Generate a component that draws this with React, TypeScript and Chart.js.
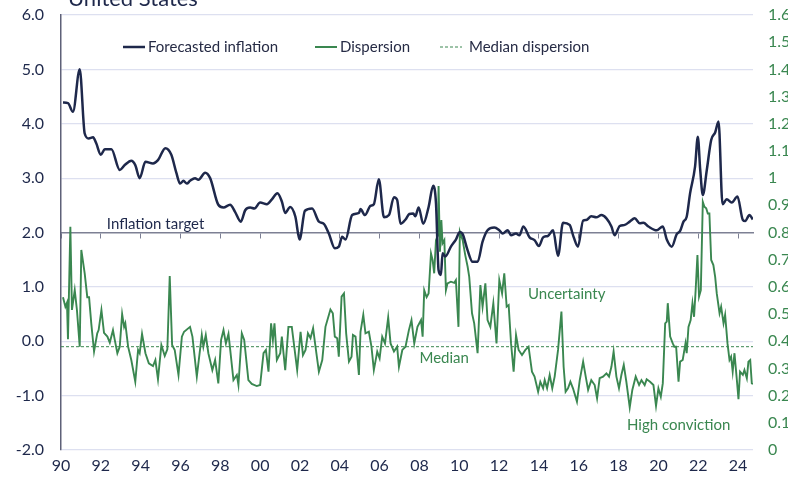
import React, { useEffect, useRef } from "react";
import { Chart, registerables } from "chart.js";

Chart.register(...registerables);

const NAVY = "#1e284b";
const GREEN = "#3a8750";
const FONT = "Lato, 'Noto Sans', sans-serif";

const xStart = 1990;
const xEnd = 2024.75;
const medianDispersion = 0.38;

const inflationYears = [
  1990.1, 1990.35, 1990.6, 1990.94, 1991.19, 1991.39, 1991.61, 1991.77, 1992.0, 1992.2,
  1992.53, 1992.95, 1993.2, 1993.53, 1993.73, 1993.95, 1994.24, 1994.62, 1994.87, 1995.24,
  1995.54, 1995.79, 1995.98, 1996.15, 1996.32, 1996.48, 1996.73, 1996.9, 1997.24, 1997.49,
  1997.9, 1998.16, 1998.49, 1998.74, 1999.03, 1999.25, 1999.5, 1999.71, 2000.0, 2000.34,
  2000.59, 2000.87, 2001.09, 2001.26, 2001.51, 2001.77, 2001.98, 2002.25, 2002.61, 2002.95,
  2003.2, 2003.45, 2003.75, 2003.95, 2004.12, 2004.29, 2004.62, 2004.96, 2005.04, 2005.26,
  2005.54, 2005.71, 2005.96, 2006.22, 2006.47, 2006.72, 2006.88, 2007.05, 2007.3, 2007.49,
  2007.69, 2007.79, 2007.96, 2008.19, 2008.46, 2008.69, 2008.83, 2008.96, 2009.08, 2009.16,
  2009.3, 2009.58, 2009.83, 2010.03, 2010.17, 2010.42, 2010.67, 2010.92, 2011.17, 2011.42,
  2011.76, 2012.01, 2012.18, 2012.43, 2012.6, 2012.85, 2013.02, 2013.22, 2013.53, 2013.78,
  2014.0, 2014.21, 2014.46, 2014.71, 2014.96, 2015.21, 2015.54, 2015.74, 2015.96, 2016.22,
  2016.38, 2016.63, 2016.88, 2017.14, 2017.39, 2017.64, 2017.8, 2018.06, 2018.31, 2018.56,
  2018.81, 2019.06, 2019.25, 2019.5, 2019.91, 2020.22, 2020.42, 2020.67, 2020.92, 2021.09,
  2021.26, 2021.42, 2021.59, 2021.84, 2021.98, 2022.1, 2022.23, 2022.43, 2022.65, 2022.85,
  2023.02, 2023.22, 2023.43, 2023.68, 2023.97, 2024.24, 2024.36, 2024.57, 2024.74,
];
const inflationValues = [
  4.39, 4.38, 4.22, 5.0, 3.82, 3.73, 3.75, 3.64, 3.43, 3.53,
  3.53, 3.15, 3.24, 3.32, 3.24, 3.0, 3.3, 3.27, 3.33, 3.55,
  3.43, 3.1, 2.9, 2.95, 2.9, 2.95, 3.0, 2.97, 3.1, 3.0,
  2.51, 2.46, 2.51, 2.38, 2.2, 2.41, 2.46, 2.44, 2.55, 2.52,
  2.61, 2.72, 2.57, 2.36, 2.47, 2.29, 1.87, 2.4, 2.44, 2.2,
  2.16, 1.98, 1.71, 1.74, 1.92, 1.87, 2.32, 2.36, 2.43, 2.32,
  2.49, 2.52, 2.98, 2.28, 2.32, 2.65, 2.6, 2.16, 2.24, 2.34,
  2.35, 2.3, 2.46, 2.16, 2.47, 2.86, 2.54, 1.31, 1.22, 1.62,
  1.56, 1.74, 1.87, 2.01, 1.97, 1.67, 1.46, 1.46, 1.83, 2.04,
  2.09, 2.04, 1.98, 2.04, 1.95, 1.98, 1.95, 2.11, 1.91, 1.86,
  1.75, 1.91, 1.94, 2.04, 1.57, 2.18, 2.14, 1.92, 1.74, 2.22,
  2.23, 2.3, 2.28, 2.32, 2.26, 2.11, 1.95, 2.12, 2.14, 2.2,
  2.26, 2.17, 2.18, 2.11, 2.04, 2.11, 1.87, 1.74, 1.97, 2.03,
  2.2, 2.29, 2.72, 3.21, 3.76, 3.15, 2.69, 3.15, 3.7, 3.84,
  4.04, 2.52, 2.61, 2.55, 2.66, 2.23, 2.21, 2.32, 2.24,
];

const dispersionYears = [
  1990.1, 1990.22, 1990.3, 1990.35, 1990.47, 1990.55, 1990.69, 1990.8, 1990.94, 1991.02,
  1991.19, 1991.32, 1991.41, 1991.52, 1991.66, 1991.82, 1991.89, 1992.03, 1992.16, 1992.33,
  1992.45, 1992.61, 1992.7, 1992.83, 1992.95, 1993.07, 1993.17, 1993.23, 1993.37, 1993.53,
  1993.73, 1993.87, 1993.95, 1994.07, 1994.24, 1994.41, 1994.62, 1994.74, 1994.87, 1995.04,
  1995.21, 1995.34, 1995.46, 1995.58, 1995.71, 1995.9, 1996.07, 1996.18, 1996.48, 1996.6,
  1996.82, 1997.07, 1997.15, 1997.27, 1997.4, 1997.6, 1997.74, 1997.9, 1998.04, 1998.16,
  1998.28, 1998.41, 1998.49, 1998.66, 1998.83, 1998.91, 1999.08, 1999.2, 1999.41, 1999.58,
  1999.83, 2000.0, 2000.17, 2000.29, 2000.42, 2000.55, 2000.64, 2000.72, 2000.84, 2001.01,
  2001.09, 2001.26, 2001.42, 2001.59, 2001.86, 2002.03, 2002.15, 2002.28, 2002.4, 2002.53,
  2002.66, 2002.78, 2002.95, 2003.12, 2003.28, 2003.53, 2003.65, 2003.75, 2003.87, 2003.95,
  2004.09, 2004.21, 2004.32, 2004.46, 2004.59, 2004.66, 2004.79, 2004.96, 2005.04, 2005.18,
  2005.29, 2005.46, 2005.59, 2005.71, 2005.88, 2006.0, 2006.13, 2006.27, 2006.43, 2006.55,
  2006.72, 2006.88, 2006.97, 2007.14, 2007.3, 2007.47, 2007.6, 2007.74, 2007.9, 2008.08,
  2008.16, 2008.24, 2008.36, 2008.46, 2008.58, 2008.66, 2008.74, 2008.83, 2008.93, 2008.96,
  2009.03, 2009.1, 2009.16, 2009.25, 2009.33, 2009.41, 2009.58, 2009.75, 2009.83, 2009.96,
  2010.03, 2010.17, 2010.3, 2010.42, 2010.5, 2010.64, 2010.75, 2010.92, 2011.06, 2011.17,
  2011.31, 2011.42, 2011.56, 2011.71, 2011.87, 2012.01, 2012.15, 2012.26, 2012.38, 2012.48,
  2012.6, 2012.73, 2012.85, 2012.98, 2013.15, 2013.32, 2013.48, 2013.65, 2013.78, 2013.96,
  2014.07, 2014.21, 2014.29, 2014.41, 2014.54, 2014.67, 2014.79, 2014.96, 2015.13, 2015.24,
  2015.34, 2015.46, 2015.58, 2015.71, 2015.91, 2016.05, 2016.22, 2016.35, 2016.47, 2016.63,
  2016.8, 2016.92, 2017.05, 2017.22, 2017.39, 2017.52, 2017.64, 2017.75, 2017.89, 2018.02,
  2018.14, 2018.26, 2018.39, 2018.56, 2018.69, 2018.86, 2019.03, 2019.15, 2019.31, 2019.41,
  2019.58, 2019.75, 2019.88, 2020.0, 2020.12, 2020.22, 2020.34, 2020.42, 2020.47, 2020.59,
  2020.72, 2020.8, 2020.89, 2021.01, 2021.09, 2021.22, 2021.36, 2021.42, 2021.51, 2021.62,
  2021.71, 2021.79, 2021.87, 2021.96, 2022.04, 2022.13, 2022.23, 2022.31, 2022.4, 2022.48,
  2022.56, 2022.65, 2022.76, 2022.85, 2022.93, 2023.07, 2023.15, 2023.27, 2023.35, 2023.47,
  2023.57, 2023.65, 2023.73, 2023.82, 2023.94, 2024.02, 2024.1, 2024.24, 2024.32, 2024.44,
  2024.52, 2024.61, 2024.69, 2024.75,
];
const dispersionValues = [
  0.562, 0.527, 0.542, 0.407, 0.821, 0.515, 0.588, 0.515, 0.38, 0.736,
  0.65, 0.562, 0.562, 0.466, 0.362, 0.429, 0.441, 0.515, 0.431, 0.417,
  0.395, 0.441, 0.405, 0.356, 0.38, 0.5, 0.453, 0.466, 0.38, 0.331,
  0.251, 0.368, 0.356, 0.427, 0.356, 0.319, 0.309, 0.331, 0.26, 0.386,
  0.346, 0.37, 0.64, 0.386, 0.368, 0.276, 0.417, 0.435, 0.453, 0.417,
  0.27, 0.423, 0.38, 0.423, 0.356, 0.294, 0.331, 0.245, 0.405, 0.441,
  0.392, 0.427, 0.374, 0.257, 0.276, 0.239, 0.429, 0.405, 0.257, 0.243,
  0.235, 0.239, 0.356, 0.368, 0.288, 0.466, 0.405, 0.466, 0.331, 0.356,
  0.417, 0.294, 0.453, 0.453, 0.294, 0.435, 0.349, 0.368, 0.429, 0.411,
  0.448, 0.38, 0.288, 0.331, 0.453, 0.517, 0.503, 0.417, 0.411, 0.343,
  0.564, 0.576, 0.429, 0.325, 0.343, 0.423, 0.417, 0.276, 0.435, 0.497,
  0.429, 0.435, 0.38, 0.294, 0.362, 0.337, 0.417, 0.392, 0.488, 0.392,
  0.362, 0.38, 0.306, 0.368, 0.38, 0.441, 0.478, 0.392, 0.453, 0.478,
  0.417, 0.588, 0.562, 0.576, 0.723, 0.699, 0.65, 0.772, 0.791, 0.971,
  0.729, 0.846, 0.76, 0.772, 0.588, 0.613, 0.619, 0.615, 0.625, 0.453,
  0.803, 0.772, 0.717, 0.674, 0.637, 0.503, 0.466, 0.356, 0.607, 0.527,
  0.613, 0.478, 0.453, 0.54, 0.392, 0.625, 0.576, 0.65, 0.527, 0.533,
  0.392, 0.288, 0.423, 0.368, 0.349, 0.368, 0.38, 0.288, 0.27, 0.214,
  0.251, 0.227, 0.257, 0.227, 0.276, 0.227, 0.27, 0.368, 0.509, 0.306,
  0.214, 0.227, 0.251, 0.227, 0.178, 0.257, 0.325, 0.27, 0.221, 0.257,
  0.239, 0.19, 0.264, 0.27, 0.282, 0.27, 0.306, 0.362, 0.27, 0.227,
  0.276, 0.313, 0.251, 0.157, 0.221, 0.27, 0.239, 0.257, 0.239, 0.26,
  0.251, 0.239, 0.162, 0.227, 0.196, 0.245, 0.466, 0.472, 0.54, 0.417,
  0.392, 0.38, 0.38, 0.251, 0.325, 0.331, 0.392, 0.356, 0.453, 0.478,
  0.54, 0.49, 0.588, 0.717, 0.564, 0.588, 0.913, 0.895, 0.889, 0.87,
  0.87, 0.699, 0.68, 0.637, 0.576, 0.503, 0.527, 0.466, 0.497, 0.392,
  0.331, 0.343, 0.288, 0.356, 0.257, 0.187, 0.288, 0.276, 0.294, 0.264,
  0.325, 0.331, 0.245, 0.243,
];

const legendLabels = ["Forecasted inflation", "Dispersion", "Median dispersion"];

const annotations = [
  { text: "Inflation target", x: 1992.3, y: 2.16, color: NAVY },
  { text: "Uncertainty", x: 2013.45, y: 0.87, color: GREEN },
  { text: "Median", x: 2008.0, y: -0.31, color: GREEN },
  { text: "High conviction", x: 2018.42, y: -1.54, color: GREEN },
];

const overlayPlugin = {
  id: "overlay",
  afterDraw(chart: any) {
    const ctx = chart.ctx as CanvasRenderingContext2D;
    const xs = chart.scales.x;
    const ys = chart.scales.y;
    ctx.save();
    // title (cut off at top, as in the source)
    ctx.font = `22px ${FONT}`;
    ctx.fillStyle = NAVY;
    ctx.textBaseline = "alphabetic";
    ctx.textAlign = "left";
    ctx.fillText("United States", 68, 6);

    // annotations
    ctx.font = `15px ${FONT}`;
    ctx.textBaseline = "middle";
    for (const a of annotations) {
      ctx.fillStyle = a.color;
      ctx.fillText(a.text, xs.getPixelForValue(a.x), ys.getPixelForValue(a.y));
    }

    // legend
    const ly = 47;
    const items = [
      { x: 123, color: NAVY, width: 2.5, dash: [] as number[], label: legendLabels[0] },
      { x: 315, color: GREEN, width: 2, dash: [] as number[], label: legendLabels[1] },
      { x: 440, color: GREEN, width: 1, dash: [3, 2], label: legendLabels[2] },
    ];
    for (const it of items) {
      ctx.beginPath();
      ctx.strokeStyle = it.color;
      ctx.lineWidth = it.width;
      ctx.setLineDash(it.dash);
      ctx.moveTo(it.x, ly);
      ctx.lineTo(it.x + 22, ly);
      ctx.stroke();
      ctx.setLineDash([]);
      ctx.fillStyle = "#262b45";
      ctx.fillText(it.label, it.x + (it.dash.length ? 29 : 25), ly);
    }
    ctx.restore();
  },
};

export default function App() {
  const canvasRef = useRef<HTMLCanvasElement | null>(null);

  useEffect(() => {
    if (!canvasRef.current) return;
    const inflationData = inflationYears.map((x, i) => ({ x, y: inflationValues[i] }));
    const dispersionData = dispersionYears.map((x, i) => ({ x, y: dispersionValues[i] }));
    const medianData = [
      { x: xStart, y: medianDispersion },
      { x: xEnd, y: medianDispersion },
    ];

    const chart = new Chart(canvasRef.current, {
      type: "line",
      data: {
        datasets: [
          {
            label: legendLabels[0],
            data: inflationData,
            borderColor: NAVY,
            borderWidth: 2.5,
            pointRadius: 0,
            cubicInterpolationMode: "monotone",
            yAxisID: "y",
            xAxisID: "x",
          },
          {
            label: legendLabels[1],
            data: dispersionData,
            borderColor: GREEN,
            borderWidth: 1.9,
            pointRadius: 0,
            tension: 0,
            yAxisID: "y1",
            xAxisID: "x",
          },
          {
            label: legendLabels[2],
            data: medianData,
            borderColor: GREEN,
            borderWidth: 1,
            borderDash: [3, 2],
            pointRadius: 0,
            yAxisID: "y1",
            xAxisID: "x",
          },
        ],
      },
      options: {
        animation: false,
        responsive: true,
        maintainAspectRatio: false,
        layout: { padding: { top: 15, left: 0, right: 0, bottom: 0 } },
        plugins: {
          legend: { display: false },
          tooltip: { enabled: false },
        },
        scales: {
          x: {
            type: "linear",
            position: "bottom",
            min: xStart,
            max: xEnd,
            grid: { display: false, drawTicks: false },
            border: { display: false },
            ticks: {
              stepSize: 2,
              includeBounds: false,
              autoSkip: false,
              maxRotation: 0,
              padding: 6,
              color: NAVY,
              font: { family: FONT, size: 16 },
              callback: (v: any) => String(Math.round(Number(v)) % 100).padStart(2, "0"),
            },
            afterFit: (s: any) => {
              s.height = 32;
            },
          },
          x2: {
            type: "linear",
            position: { y: 2 } as any,
            min: xStart,
            max: xEnd,
            grid: {
              drawOnChartArea: false,
              drawTicks: true,
              tickLength: 5,
              color: "#7d8094",
              lineWidth: 1,
            },
            border: { display: true, color: "#7d8094", width: 1.5 },
            ticks: { display: false, stepSize: 2, includeBounds: false, autoSkip: false },
            afterFit: (s: any) => {
              s.height = 0;
            },
          },
          y: {
            type: "linear",
            position: "left",
            min: -2,
            max: 6,
            ticks: {
              stepSize: 1,
              padding: 17,
              color: NAVY,
              font: { family: FONT, size: 16 },
              callback: (v: any) => Number(v).toFixed(1),
            },
            grid: {
              drawTicks: false,
              color: (c: any) => (c.tick && c.tick.value === 2 ? "rgba(0,0,0,0)" : "#dde0f0"),
              lineWidth: 1.2,
            },
            border: { display: true, color: "#5e6178", width: 1.5 },
            afterFit: (s: any) => {
              s.width = 61;
              s.paddingTop = 8;
              s.paddingBottom = 8;
            },
          },
          y1: {
            type: "linear",
            position: "right",
            min: 0,
            max: 1.6,
            ticks: {
              stepSize: 0.1,
              padding: 15,
              color: GREEN,
              font: { family: FONT, size: 16 },
              callback: (v: any) => String(parseFloat(Number(v).toFixed(1))),
            },
            grid: { display: false, drawTicks: false },
            border: { display: false },
            afterFit: (s: any) => {
              s.width = 35;
              s.paddingTop = 8;
              s.paddingBottom = 8;
            },
          },
        },
      },
      plugins: [overlayPlugin],
    } as any);

    return () => chart.destroy();
  }, []);

  return (
    <div style={{ position: "absolute", left: 0, top: 0, width: 788, height: 482, background: "#ffffff" }}>
      <canvas ref={canvasRef} />
    </div>
  );
}
